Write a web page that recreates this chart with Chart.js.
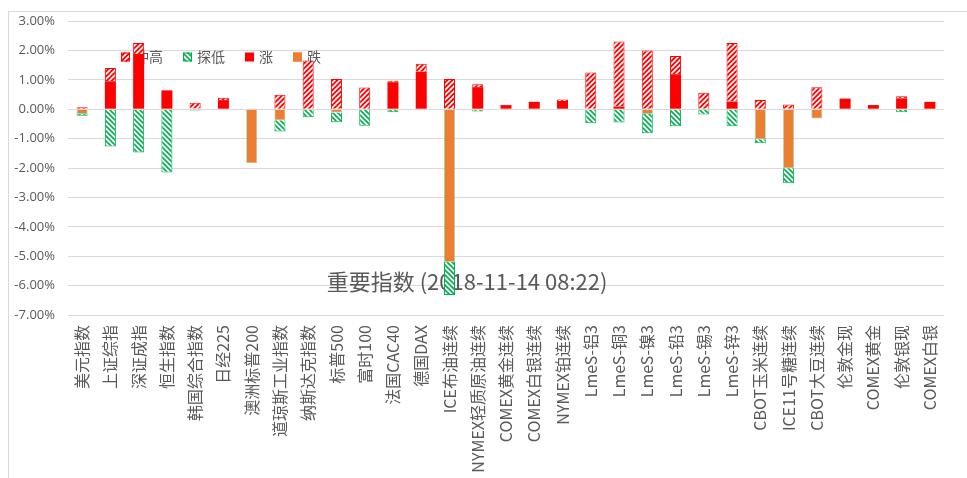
<!DOCTYPE html>
<html>
<head>
<meta charset="utf-8">
<script src="https://cdn.jsdelivr.net/npm/chart.js@4"></script>
<style>
  html, body { margin: 0; padding: 0; background: #fff; }
  #wrap { position: relative; width: 967px; height: 478px; overflow: hidden; }
  #frame { position: absolute; left: 8px; top: 11px; right: -2px; bottom: -2px; border-left: 1px solid #d9d9d9; border-top: 1px solid #d9d9d9; pointer-events: none; }
</style>
</head>
<body>
<div id="wrap">
  <canvas id="c"></canvas>
  <div id="frame"></div>
</div>
<script>
var categories = [
  '美元指数', '上证综指', '深证成指', '恒生指数', '韩国综合指数', '日经225', '澳洲标普200',
  '道琼斯工业指数', '纳斯达克指数', '标普500', '富时100', '法国CAC40', '德国DAX',
  'ICE布油连续', 'NYMEX轻质原油连续', 'COMEX黄金连续', 'COMEX白银连续', 'NYMEX铂连续',
  'LmeS-铝3', 'LmeS-铜3', 'LmeS-镍3', 'LmeS-铅3', 'LmeS-锡3', 'LmeS-锌3',
  'CBOT玉米连续', 'ICE11号糖连续', 'CBOT大豆连续', '伦敦金现', 'COMEX黄金', '伦敦银现', 'COMEX白银'
];

// 涨 (solid red, from zero up)
var riseValues = [
  null, 0.95, 1.88, 0.64, 0.02, 0.31, null,
  null, null, null, null, 0.92, 1.28,
  null, 0.75, 0.14, 0.25, 0.28,
  null, 0.09, null, 1.19, null, 0.26,
  null, null, null, 0.36, 0.14, 0.37, 0.25
];
// 冲高 (hatched red, stacked on top)
var highValues = [
  0.07, 0.45, 0.37, null, 0.20, 0.08, 0.02,
  0.49, 1.66, 1.03, 0.74, 0.05, 0.27,
  1.03, 0.10, null, null, 0.05,
  1.25, 2.21, 2.00, 0.62, 0.56, 1.99,
  0.31, 0.16, 0.75, null, null, 0.07, null
];
// 跌 (solid orange, from zero down)
var fallValues = [
  -0.16, null, null, null, null, null, -1.84,
  -0.38, null, -0.11, null, null, null,
  -5.20, null, null, null, null,
  null, null, -0.16, null, null, null,
  -1.02, -2.01, -0.32, null, null, null, null
];
// 探低 (hatched green, stacked below)
var lowValues = [
  -0.06, -1.27, -1.47, -2.15, -0.04, -0.02, null,
  -0.38, -0.27, -0.33, -0.56, -0.10, null,
  -1.12, -0.08, null, null, -0.02,
  -0.48, -0.45, -0.66, -0.58, -0.18, -0.58,
  -0.14, -0.51, null, null, null, -0.10, null
];

var yTicks = [3, 2, 1, 0, -1, -2, -3, -4, -5, -6, -7];
var legendOrder = ['冲高', '探低', '涨', '跌'];
var chartTitle = '重要指数 (2018-11-14 08:22)';

var RED = '#ff0000';
var GREEN = '#00b050';
var ORANGE = '#ed7d31';
var GREY = '#595959';

function makeHatch(bg, fg, upward) {
  var s = 5;
  var tile = document.createElement('canvas');
  tile.width = s;
  tile.height = s;
  var g = tile.getContext('2d');
  g.fillStyle = bg;
  g.fillRect(0, 0, s, s);
  g.strokeStyle = fg;
  g.lineWidth = 1.6;
  g.beginPath();
  if (upward) {
    g.moveTo(-1, s + 1); g.lineTo(s + 1, -1);
    g.moveTo(-1, 1); g.lineTo(1, -1);
    g.moveTo(s - 1, s + 1); g.lineTo(s + 1, s - 1);
  } else {
    g.moveTo(-1, -1); g.lineTo(s + 1, s + 1);
    g.moveTo(s - 1, -1); g.lineTo(s + 1, 1);
    g.moveTo(-1, s - 1); g.lineTo(1, s + 1);
  }
  g.stroke();
  return g.createPattern(tile, 'repeat');
}

var redHatch = makeHatch(RED, '#ffffff', true);
var greenHatch = makeHatch('#ffffff', GREEN, false);

var legendPlugin = {
  id: 'insideLegend',
  beforeDatasetsDraw: function (chart) {
    var ctx = chart.ctx;
    var area = chart.chartArea;
    var x = area.left + 53;
    var y = 57;
    ctx.save();
    ctx.font = '14px "Noto Sans CJK SC", sans-serif';
    ctx.textBaseline = 'middle';
    for (var i = 0; i < legendOrder.length; i += 1) {
      var ds = chart.data.datasets.find(function (d) { return d.label === legendOrder[i]; });
      ctx.fillStyle = ds.backgroundColor;
      ctx.fillRect(x, y - 4.5, 9, 9);
      if (ds.borderWidth) {
        ctx.strokeStyle = ds.legendBorder || ds.borderColor;
        ctx.lineWidth = 1;
        ctx.strokeRect(x + 0.5, y - 4, 8, 8);
      }
      ctx.fillStyle = GREY;
      ctx.fillText(ds.label, x + 14, y);
      x += 14 + ctx.measureText(ds.label).width + 20;
    }
    ctx.restore();
  }
};

var titlePlugin = {
  id: 'midTitle',
  beforeDatasetsDraw: function (chart) {
    var ctx = chart.ctx;
    ctx.save();
    ctx.font = '22px "Noto Sans CJK SC", sans-serif';
    ctx.fillStyle = GREY;
    ctx.textAlign = 'center';
    ctx.textBaseline = 'middle';
    ctx.fillText(chartTitle, chart.width * 0.483, chart.height * 0.59);
    ctx.restore();
  }
};

new Chart(document.getElementById('c'), {
  type: 'bar',
  data: {
    labels: categories,
    datasets: [
      { label: '涨', data: riseValues, backgroundColor: RED, borderColor: RED, borderWidth: 0, stack: 'k' },
      { label: '冲高', data: highValues, backgroundColor: redHatch, borderColor: RED, borderWidth: 1, stack: 'k' },
      { label: '跌', data: fallValues, backgroundColor: ORANGE, borderColor: 'rgba(0,176,80,0.45)', borderWidth: 0.8, legendBorder: ORANGE, stack: 'k' },
      { label: '探低', data: lowValues, backgroundColor: greenHatch, borderColor: GREEN, borderWidth: 1, stack: 'k' }
    ]
  },
  options: {
    responsive: true,
    maintainAspectRatio: false,
    animation: false,
    layout: { padding: { left: 0, right: 23, top: 21, bottom: 0 } },
    datasets: { bar: { barPercentage: 0.39, categoryPercentage: 1 } },
    plugins: {
      legend: { display: false },
      tooltip: { enabled: false },
      title: { display: false }
    },
    scales: {
      x: {
        stacked: true,
        grid: { display: false, drawTicks: false },
        border: { display: false },
        ticks: {
          autoSkip: false,
          maxRotation: 90,
          minRotation: 90,
          padding: 10,
          color: GREY,
          font: { family: '"Noto Sans CJK SC", sans-serif', size: 16 }
        },
        afterFit: function (scale) { scale.height = 163; }
      },
      y: {
        stacked: true,
        min: -7,
        max: 3,
        afterBuildTicks: function (scale) {
          scale.ticks = yTicks.map(function (v) { return { value: v }; });
        },
        grid: { color: '#d9d9d9', lineWidth: 1, drawTicks: false },
        border: { display: false },
        ticks: {
          color: GREY,
          padding: 13,
          font: { family: '"Open Sans", sans-serif', size: 13 },
          callback: function (v) { return Number(v).toFixed(2) + '%'; }
        },
        afterFit: function (scale) { scale.width = 68; }
      }
    }
  },
  plugins: [legendPlugin, titlePlugin]
});
</script>
</body>
</html>
